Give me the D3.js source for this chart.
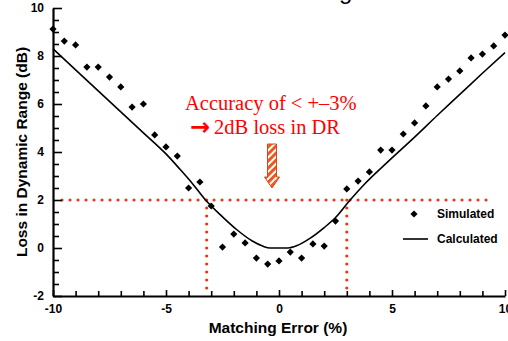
<!DOCTYPE html>
<html>
<head>
<meta charset="utf-8">
<script src="https://cdn.jsdelivr.net/npm/d3@7"></script>
<style>
  html, body { margin: 0; padding: 0; background: #fff; }
  svg { display: block; }
</style>
</head>
<body>
<svg id="chart" width="508" height="341"></svg>
<script>
// Simulated points (diamonds)
const simX = [-10, -9.5, -9, -8.5, -8, -7.5, -7, -6.5, -6, -5.5, -5, -4.5, -4, -3.5, -3, -2.5, -2, -1.5, -1, -0.5,
              0, 0.5, 1, 1.5, 2, 2.5, 3, 3.5, 4, 4.5, 5, 5.5, 6, 6.5, 7, 7.5, 8, 8.5, 9, 9.5, 10];
const simY = [9.12, 8.62, 8.46, 7.54, 7.54, 7.12, 6.71, 5.87, 6.0, 4.71, 4.21, 3.83, 2.5, 2.75, 1.75, 0.04, 0.58, 0.21, -0.42, -0.67,
              -0.54, -0.17, -0.42, 0.17, 0.08, 1.12, 2.46, 2.79, 3.17, 4.08, 4.08, 4.75, 5.21, 5.92, 6.71, 7.04, 7.38, 7.92, 8.08, 8.42, 8.87];

// Calculated curve
const calcX = [-10, -9, -8, -7, -6, -5, -4.4, -3.8, -3.25, -2.5, -1.85, -1.2, -0.7, -0.4, 0, 0.4, 0.8, 1.4, 2.0, 2.5, 3.1, 3.8, 4.8, 6, 7, 8, 9, 10];
const calcY = [8.3, 7.42, 6.55, 5.67, 4.8, 3.92, 3.3, 2.65, 2.0, 1.3, 0.75, 0.3, 0.07, 0, 0, 0, 0.1, 0.42, 0.85, 1.27, 1.95, 2.68, 3.58, 4.62, 5.52, 6.4, 7.28, 8.14];

// Axis ticks
const xMajorTicks = [-10, -5, 0, 5, 10];
const xMinorTicks = [-9, -8, -7, -6, -4, -3, -2, -1, 1, 2, 3, 4, 6, 7, 8, 9];
const yMajorTicks = [-2, 0, 2, 4, 6, 8, 10];
const yMinorTicks = [-1.5, -1, -0.5, 0.5, 1, 1.5, 2.5, 3, 3.5, 4.5, 5, 5.5, 6.5, 7, 7.5, 8.5, 9, 9.5];

// 2 dB reference level and the matching errors where it is reached
const refLevel = 2;
const refSpan = [-9.6, 9.2];
const crossings = [-3.2, 3.0];

const legendItems = ["Simulated", "Calculated"];
const noteLine1 = "Accuracy of < +\u20133%";
const noteArrow = "\u2192";
const noteLine2 = "2dB loss in DR";

const svg = d3.select("#chart");
const x = d3.scaleLinear().domain([-10, 10]).range([53, 505]);
const y = d3.scaleLinear().domain([-2, 10]).range([296, 8]);

const red = "#e23c14";

// partial slide title above the plot
svg.append("text").attr("x", 339).attr("y", -1)
  .attr("font-family", "Liberation Sans, Arial, sans-serif").attr("font-size", 24)
  .text("g");

// hatched pattern for the pointer arrow
const defs = svg.append("defs");
const pat = defs.append("pattern").attr("id", "hatch")
  .attr("patternUnits", "userSpaceOnUse").attr("width", 5).attr("height", 5)
  .attr("patternTransform", "rotate(-45)");
pat.append("rect").attr("width", 5).attr("height", 5).attr("fill", "#ec5a22");
pat.append("rect").attr("width", 5).attr("height", 2).attr("fill", "#ffffff");

// reference dotted lines
const dotted = svg.append("g").attr("fill", "none").attr("stroke", red)
  .attr("stroke-width", 3.2).attr("stroke-linecap", "round").attr("stroke-dasharray", "0 8");
dotted.append("line")
  .attr("x1", x(refSpan[0])).attr("x2", x(refSpan[1]))
  .attr("y1", y(refLevel)).attr("y2", y(refLevel));
crossings.forEach(c => {
  dotted.append("line")
    .attr("x1", x(c)).attr("x2", x(c))
    .attr("y1", y(refLevel)).attr("y2", y(-2) - 1);
});

// calculated curve
const line = d3.line().x(d => x(d[0])).y(d => y(d[1])).curve(d3.curveMonotoneX);
svg.append("path")
  .datum(calcX.map((v, i) => [v, calcY[i]]))
  .attr("fill", "none").attr("stroke", "#000").attr("stroke-width", 1.6)
  .attr("d", line);

// simulated diamonds
const diamond = d3.symbol().type(d3.symbolSquare).size(26);
svg.append("g").selectAll("path")
  .data(simX.map((v, i) => [v, simY[i]]))
  .join("path")
  .attr("d", diamond)
  .attr("transform", d => `translate(${x(d[0])},${y(d[1])}) rotate(45)`)
  .attr("fill", "#000");

// axes
const fmt = d => String(d);
const styleAxis = g => {
  g.select(".domain").attr("stroke-width", 2.2);
  g.selectAll(".tick line").attr("stroke-width", 1.6);
  g.selectAll("text").attr("font-family", "Liberation Sans, Arial, sans-serif")
    .attr("font-weight", "bold").attr("font-size", 12).attr("fill", "#000");
};

svg.append("g").attr("transform", `translate(0,${y(-2)})`)
  .call(d3.axisBottom(x).tickValues(xMinorTicks).tickSizeInner(-5).tickSizeOuter(0).tickFormat(""))
  .call(g => g.select(".domain").remove())
  .call(g => g.selectAll(".tick line").attr("stroke-width", 1.6));
svg.append("g").attr("transform", `translate(0,${y(-2)})`)
  .call(d3.axisBottom(x).tickValues(xMajorTicks).tickSizeInner(-6).tickSizeOuter(0).tickPadding(8).tickFormat(fmt))
  .call(styleAxis);

svg.append("g").attr("transform", `translate(${x(-10)},0)`)
  .call(d3.axisLeft(y).tickValues(yMinorTicks).tickSizeInner(-6).tickSizeOuter(0).tickFormat(""))
  .call(g => g.select(".domain").remove())
  .call(g => g.selectAll(".tick line").attr("stroke-width", 1.6));
svg.append("g").attr("transform", `translate(${x(-10)},0)`)
  .call(d3.axisLeft(y).tickValues(yMajorTicks).tickSizeInner(-9).tickSizeOuter(0).tickPadding(9).tickFormat(fmt))
  .call(styleAxis);

// axis titles
svg.append("text")
  .attr("x", 278).attr("y", 333).attr("text-anchor", "middle")
  .attr("font-family", "Liberation Sans, Arial, sans-serif").attr("font-weight", "bold").attr("font-size", 15.5)
  .text("Matching Error (%)");
svg.append("text")
  .attr("transform", "translate(27,152) rotate(-90)").attr("text-anchor", "middle")
  .attr("font-family", "Liberation Sans, Arial, sans-serif").attr("font-weight", "bold").attr("font-size", 15.5)
  .text("Loss in Dynamic Range (dB)");

// legend
const leg = svg.append("g").attr("font-family", "Liberation Sans, Arial, sans-serif")
  .attr("font-weight", "bold").attr("font-size", 12);
leg.append("path").attr("d", diamond).attr("transform", "translate(414,214) rotate(45)");
leg.append("text").attr("x", 437).attr("y", 218).text(legendItems[0]);
leg.append("line").attr("x1", 403).attr("x2", 428).attr("y1", 239).attr("y2", 239)
  .attr("stroke", "#000").attr("stroke-width", 1.6);
leg.append("text").attr("x", 437).attr("y", 243).text(legendItems[1]);

// annotation
const note = svg.append("g").attr("font-family", "Liberation Serif, Times New Roman, serif")
  .attr("font-size", 20.5).attr("fill", "#ff0000");
note.append("text").attr("x", 185).attr("y", 110).text(noteLine1);
const l2 = note.append("text").attr("x", 190).attr("y", 134);
l2.append("tspan").attr("font-family", "DejaVu Sans, sans-serif").attr("font-weight", "bold")
  .attr("font-size", 24).attr("dy", 1).text(noteArrow);
l2.append("tspan").attr("dx", 4).attr("dy", -1).text(noteLine2);

// hatched arrow pointing down at the curve minimum
const arrowX = 272, arrowTop = 144, arrowNeck = 177, arrowTip = 188, shaftHalf = 4.5, headHalf = 7.5;
svg.append("path")
  .attr("d", `M${arrowX - shaftHalf},${arrowTop} L${arrowX + shaftHalf},${arrowTop} L${arrowX + shaftHalf},${arrowNeck} L${arrowX + headHalf},${arrowNeck} L${arrowX},${arrowTip} L${arrowX - headHalf},${arrowNeck} L${arrowX - shaftHalf},${arrowNeck} Z`)
  .attr("fill", "url(#hatch)").attr("stroke", "#d9481a").attr("stroke-width", 1);
</script>
</body>
</html>
